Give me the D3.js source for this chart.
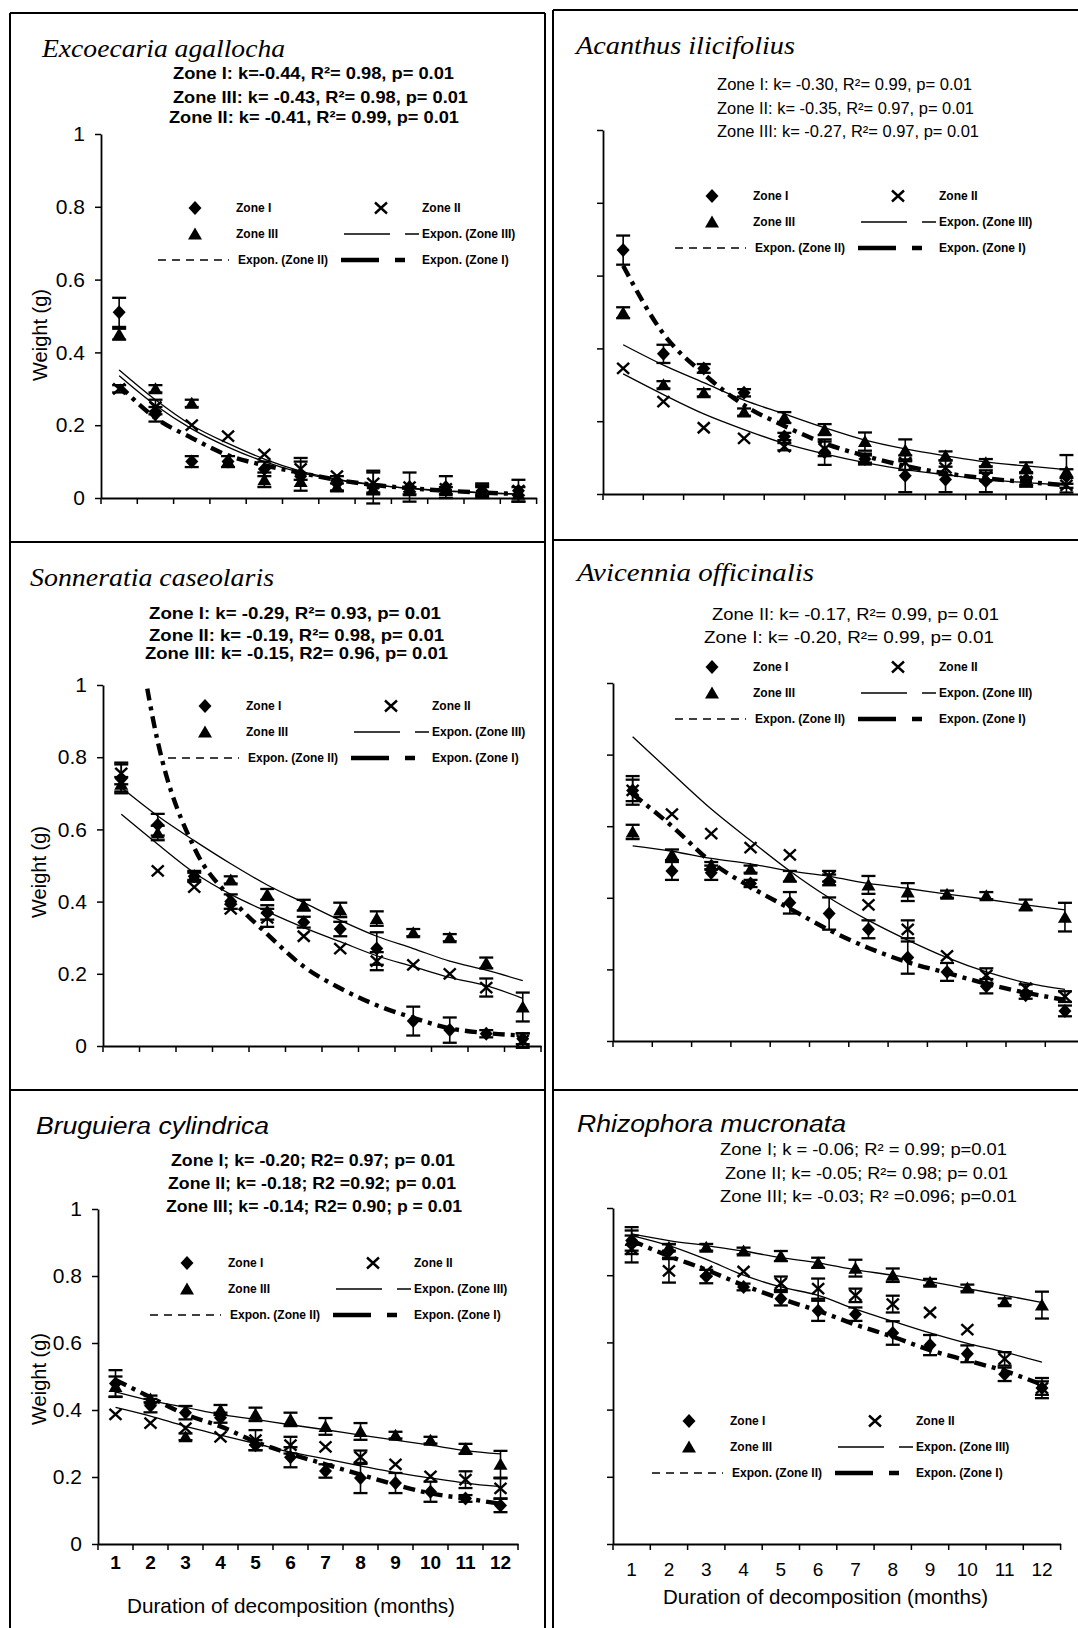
<!DOCTYPE html>
<html>
<head>
<meta charset="utf-8">
<script src="https://cdn.jsdelivr.net/npm/d3@7"></script>
<style>
  body { margin: 0; background: #fff; }
  svg { display: block; }
</style>
</head>
<body>
<div id="chart"></div>
<script>
// categories and tick labels
const months = [1, 2, 3, 4, 5, 6, 7, 8, 9, 10, 11, 12];
const monthLabels = ["1", "2", "3", "4", "5", "6", "7", "8", "9", "10", "11", "12"];
const yTicks = [0, 0.2, 0.4, 0.6, 0.8, 1];
const yTickLabels = ["0", "0.2", "0.4", "0.6", "0.8", "1"];
const legendLabels = ["Zone I", "Zone II", "Zone III", "Expon. (Zone III)", "Expon. (Zone II)", "Expon. (Zone I)"];

// Excoecaria agallocha
const excZ1 = [0.51, 0.23, 0.10, 0.10, 0.08, 0.06, 0.04, 0.03, 0.03, 0.03, 0.02, 0.02];
const excE1 = [0.04, 0.02, 0.015, 0.015, 0.02, 0.04, 0.02, 0.045, 0.04, 0.03, 0.02, 0.03];
const excZ2 = [0.30, 0.25, 0.20, 0.17, 0.12, 0.08, 0.06, 0.04, 0.03, 0.025, 0.02, 0.02];
const excE2 = [0.01, 0.02, 0, 0, 0, 0.03, 0, 0.03, 0, 0, 0.015, 0];
const excZ3 = [0.45, 0.30, 0.26, 0.10, 0.05, 0.045, 0.03, 0.025, 0.02, 0.02, 0.02, 0.01];
const excE3 = [0.015, 0.01, 0.01, 0, 0.02, 0, 0.01, 0.01, 0.01, 0.01, 0.01, 0.02];
const excT1 = [0.31, 0.22, 0.165, 0.117, 0.09, 0.069, 0.05, 0.036, 0.027, 0.02, 0.015, 0.011];
const excT2 = [0.336, 0.255, 0.19, 0.14, 0.10, 0.07, 0.05, 0.036, 0.026, 0.019, 0.014, 0.01];
const excT3 = [0.352, 0.27, 0.20, 0.15, 0.107, 0.074, 0.052, 0.037, 0.027, 0.02, 0.015, 0.011];
const excStats = ["Zone I: k=-0.44, R²= 0.98, p= 0.01", "Zone III: k= -0.43, R²= 0.98, p= 0.01", "Zone II: k= -0.41, R²= 0.99, p= 0.01"];

// Acanthus ilicifolius
const acaZ1 = [0.67, 0.385, 0.345, 0.278, 0.158, 0.115, 0.096, 0.05, 0.04, 0.035, 0.04, 0.048];
const acaE1 = [0.04, 0.025, 0.012, 0.01, 0.01, 0.035, 0.015, 0.045, 0.035, 0.03, 0.02, 0.02];
const acaZ2 = [0.345, 0.254, 0.182, 0.153, 0.13, 0.124, 0.096, 0.086, 0.072, 0.048, 0.035, 0.024];
const acaE2 = [0, 0, 0, 0, 0.01, 0.02, 0.01, 0.02, 0.02, 0.01, 0.01, 0.02];
const acaZ3 = [0.498, 0.30, 0.278, 0.225, 0.21, 0.177, 0.144, 0.12, 0.105, 0.086, 0.072, 0.062];
const acaE3 = [0.015, 0.01, 0.01, 0.01, 0.015, 0.015, 0.025, 0.03, 0.012, 0.01, 0.015, 0.045];
const acaT1 = [0.627, 0.44, 0.33, 0.244, 0.187, 0.139, 0.105, 0.077, 0.057, 0.043, 0.033, 0.024];
const acaT2 = [0.33, 0.273, 0.22, 0.177, 0.139, 0.11, 0.086, 0.067, 0.053, 0.04, 0.031, 0.024];
const acaT3 = [0.41, 0.354, 0.306, 0.258, 0.22, 0.182, 0.148, 0.124, 0.105, 0.088, 0.077, 0.067];
const acaStats = ["Zone I: k= -0.30, R²= 0.99, p= 0.01", "Zone II: k= -0.35, R²= 0.97, p= 0.01", "Zone III: k= -0.27, R²= 0.97, p= 0.01"];

// Sonneratia caseolaris
const sonZ1 = [0.74, 0.613, 0.47, 0.40, 0.37, 0.343, 0.324, 0.27, 0.069, 0.044, 0.034, 0.02];
const sonE1 = [0.04, 0.03, 0.015, 0.02, 0.02, 0.015, 0.02, 0.045, 0.04, 0.035, 0.01, 0.015];
const sonZ2 = [0.755, 0.485, 0.44, 0.38, 0.355, 0.304, 0.27, 0.235, 0.225, 0.20, 0.162, 0.015];
const sonE2 = [0.03, 0, 0, 0, 0.025, 0, 0, 0.025, 0, 0, 0.025, 0.02];
const sonZ3 = [0.725, 0.59, 0.47, 0.46, 0.42, 0.39, 0.377, 0.353, 0.314, 0.30, 0.23, 0.108];
const sonE3 = [0.02, 0.02, 0.01, 0.01, 0.015, 0.015, 0.02, 0.02, 0.01, 0.01, 0.015, 0.04];
const sonT1 = [1.45, 0.843, 0.549, 0.41, 0.31, 0.22, 0.16, 0.113, 0.078, 0.049, 0.036, 0.029];
const sonT2 = [0.642, 0.559, 0.48, 0.42, 0.372, 0.328, 0.289, 0.25, 0.22, 0.19, 0.167, 0.132];
const sonT3 = [0.716, 0.637, 0.569, 0.505, 0.446, 0.397, 0.348, 0.304, 0.27, 0.235, 0.21, 0.181];
const sonStats = ["Zone I: k= -0.29, R²= 0.93, p= 0.01", "Zone II: k= -0.19, R²= 0.98, p= 0.01", "Zone III: k= -0.15, R2= 0.96, p= 0.01"];

// Avicennia officinalis
const aviZ1 = [0.70, 0.475, 0.47, 0.44, 0.386, 0.356, 0.312, 0.233, 0.193, 0.153, 0.128, 0.084];
const aviE1 = [0.04, 0.025, 0.02, 0.01, 0.03, 0.045, 0.025, 0.045, 0.025, 0.02, 0.01, 0.015];
const aviZ2 = [0.70, 0.634, 0.579, 0.54, 0.52, 0.46, 0.38, 0.312, 0.238, 0.183, 0.148, 0.124];
const aviE2 = [0.03, 0, 0, 0, 0, 0.015, 0, 0.025, 0, 0.02, 0.01, 0.015];
const aviZ3 = [0.584, 0.52, 0.49, 0.48, 0.46, 0.45, 0.436, 0.416, 0.41, 0.406, 0.38, 0.346];
const aviE3 = [0.02, 0.015, 0.01, 0.01, 0.015, 0.015, 0.025, 0.025, 0.01, 0.01, 0.015, 0.04];
const aviT1 = [0.69, 0.60, 0.50, 0.43, 0.37, 0.31, 0.26, 0.22, 0.19, 0.16, 0.135, 0.115];
const aviT2 = [0.85, 0.748, 0.648, 0.56, 0.475, 0.40, 0.337, 0.282, 0.233, 0.193, 0.163, 0.144];
const aviT3 = [0.545, 0.53, 0.51, 0.495, 0.475, 0.46, 0.44, 0.426, 0.41, 0.396, 0.38, 0.366];
const aviStats = ["Zone II: k= -0.17, R²= 0.99, p= 0.01", "Zone I: k= -0.20, R²= 0.99, p= 0.01"];

// Bruguiera cylindrica
const bruZ1 = [0.479, 0.413, 0.392, 0.377, 0.295, 0.259, 0.218, 0.197, 0.182, 0.156, 0.136, 0.115];
const bruE1 = [0.04, 0.02, 0.02, 0.015, 0.015, 0.03, 0.02, 0.045, 0.03, 0.03, 0.01, 0.02];
const bruZ2 = [0.387, 0.361, 0.346, 0.32, 0.31, 0.295, 0.29, 0.259, 0.238, 0.202, 0.192, 0.166];
const bruE2 = [0, 0, 0, 0, 0.03, 0.025, 0, 0.02, 0, 0, 0.025, 0.03];
const bruZ3 = [0.47, 0.433, 0.32, 0.40, 0.387, 0.372, 0.351, 0.336, 0.325, 0.31, 0.284, 0.238];
const bruE3 = [0.03, 0.01, 0.01, 0.015, 0.02, 0.02, 0.025, 0.025, 0.01, 0.01, 0.015, 0.04];
const bruT1 = [0.49, 0.438, 0.387, 0.351, 0.305, 0.269, 0.238, 0.207, 0.177, 0.151, 0.136, 0.12];
const bruT2 = [0.408, 0.382, 0.351, 0.325, 0.30, 0.274, 0.254, 0.233, 0.213, 0.197, 0.182, 0.171];
const bruT3 = [0.454, 0.428, 0.408, 0.387, 0.372, 0.356, 0.341, 0.325, 0.31, 0.295, 0.279, 0.269];
const bruStats = ["Zone I; k= -0.20; R2= 0.97; p= 0.01", "Zone II; k= -0.18; R2 =0.92; p= 0.01", "Zone III; k= -0.14; R2= 0.90; p = 0.01"];

// Rhizophora mucronata
const rhiZ1 = [0.903, 0.872, 0.796, 0.765, 0.73, 0.694, 0.684, 0.628, 0.592, 0.566, 0.505, 0.464];
const rhiE1 = [0.04, 0.02, 0.02, 0.01, 0.02, 0.03, 0.02, 0.035, 0.03, 0.025, 0.02, 0.03];
const rhiZ2 = [0.878, 0.813, 0.811, 0.811, 0.776, 0.76, 0.74, 0.714, 0.689, 0.638, 0.551, 0.464];
const rhiE2 = [0.04, 0.035, 0, 0, 0.02, 0.03, 0.02, 0.025, 0, 0, 0.02, 0.02];
const rhiZ3 = [0.903, 0.883, 0.883, 0.872, 0.857, 0.837, 0.821, 0.80, 0.779, 0.762, 0.721, 0.711];
const rhiE3 = [0.03, 0.01, 0.01, 0.01, 0.015, 0.015, 0.025, 0.02, 0.01, 0.01, 0.01, 0.04];
const rhiT1 = [0.903, 0.857, 0.816, 0.77, 0.73, 0.694, 0.653, 0.617, 0.577, 0.546, 0.515, 0.474];
const rhiT2 = [0.918, 0.888, 0.847, 0.80, 0.765, 0.74, 0.699, 0.663, 0.628, 0.597, 0.571, 0.541];
const rhiT3 = [0.923, 0.903, 0.888, 0.872, 0.852, 0.837, 0.816, 0.80, 0.781, 0.76, 0.74, 0.719];
const rhiStats = ["Zone I; k = -0.06; R² = 0.99; p=0.01", "Zone II; k= -0.05; R²= 0.98; p= 0.01", "Zone III; k= -0.03; R² =0.096; p=0.01"];

// panel layout (positions only)
const panels = [
  { title: "Excoecaria agallocha", serif: true, tx: 42, ty: 57, tw: 243,
    stats: excStats, bold: true, sx: [173, 173, 169], sy: [79, 103, 123], sw: [281, 295, 290],
    x0: 101, bw: 36.3, yTop: 134, yBot: 498, yLab: true, xLab: false, wx: 40, wy: 335, lx: 195, ly: 208,
    z: [excZ1, excZ2, excZ3], e: [excE1, excE2, excE3], t: [excT1, excT2, excT3] },
  { title: "Acanthus ilicifolius", serif: true, tx: 576, ty: 54, tw: 219,
    stats: acaStats, bold: false, sx: [717, 717, 717], sy: [90, 114, 137], sw: [255, 257, 262],
    x0: 603, bw: 40.3, yTop: 130, yBot: 494, yLab: false, xLab: false, lx: 712, ly: 196,
    z: [acaZ1, acaZ2, acaZ3], e: [acaE1, acaE2, acaE3], t: [acaT1, acaT2, acaT3] },
  { title: "Sonneratia caseolaris", serif: true, tx: 30, ty: 586, tw: 244,
    stats: sonStats, bold: true, sx: [149, 149, 145], sy: [619, 641, 659], sw: [292, 295, 303],
    x0: 103, bw: 36.5, yTop: 685, yBot: 1046, yLab: true, xLab: false, wx: 39, wy: 872, lx: 205, ly: 706,
    z: [sonZ1, sonZ2, sonZ3], e: [sonE1, sonE2, sonE3], t: [sonT1, sonT2, sonT3] },
  { title: "Avicennia officinalis", serif: true, tx: 577, ty: 581, tw: 237,
    stats: aviStats, bold: false, sx: [712, 704], sy: [620, 643], sw: [287, 290],
    x0: 613, bw: 39.3, yTop: 683, yBot: 1041, yLab: false, xLab: false, lx: 712, ly: 667,
    z: [aviZ1, aviZ2, aviZ3], e: [aviE1, aviE2, aviE3], t: [aviT1, aviT2, aviT3] },
  { title: "Bruguiera cylindrica", serif: false, tx: 36, ty: 1134, tw: 233,
    stats: bruStats, bold: true, sx: [171, 168, 166], sy: [1166, 1189, 1212], sw: [284, 288, 296],
    x0: 98, bw: 35, yTop: 1209, yBot: 1544, yLab: true, xLab: true, xBold: true, xPad: 12,
    wx: 39, wy: 1379, lx: 187, ly: 1263, xtX: 127, xtY: 1613, xtW: 328,
    z: [bruZ1, bruZ2, bruZ3], e: [bruE1, bruE2, bruE3], t: [bruT1, bruT2, bruT3] },
  { title: "Rhizophora mucronata", serif: false, tx: 577, ty: 1132, tw: 269,
    stats: rhiStats, bold: false, sx: [720, 725, 720], sy: [1155, 1179, 1202], sw: [287, 283, 297],
    x0: 613, bw: 37.3, yTop: 1208, yBot: 1544, yLab: false, xLab: true, xBold: false, xPad: 19,
    lx: 689, ly: 1421, xtX: 663, xtY: 1604, xtW: 325,
    z: [rhiZ1, rhiZ2, rhiZ3], e: [rhiE1, rhiE2, rhiE3], t: [rhiT1, rhiT2, rhiT3] }
];

const sans = "'Liberation Sans', Arial, Helvetica, sans-serif";
const serif = "'Liberation Serif', 'Times New Roman', serif";

const svg = d3.select("#chart").append("svg")
  .attr("width", 1078)
  .attr("height", 1628)
  .style("font-family", sans);

// panel frames
const frame = svg.append("g").attr("stroke", "#000").attr("stroke-width", 2);
[[10, 13, 545, 13], [10, 13, 10, 1628], [545, 13, 545, 1628], [10, 542, 545, 542], [10, 1090, 545, 1090],
 [553, 10, 1078, 10], [553, 10, 553, 1628], [553, 540, 1078, 540], [553, 1090, 1078, 1090]]
  .forEach(l => frame.append("line").attr("x1", l[0]).attr("y1", l[1]).attr("x2", l[2]).attr("y2", l[3]));

// marker shapes
const diamond = "M0,-7L6.5,0L0,7L-6.5,0Z";
const triangle = "M0,-6.5L7,5.5L-7,5.5Z";
const cross = "M-6,-5.5L6,5.5M-6,5.5L6,-5.5";

function drawMarker(g, kind, cx, cy) {
  if (kind === 0) g.append("path").attr("d", diamond).attr("transform", `translate(${cx},${cy})`).attr("fill", "#000");
  else if (kind === 1) g.append("path").attr("d", cross).attr("transform", `translate(${cx},${cy})`)
    .attr("fill", "none").attr("stroke", "#000").attr("stroke-width", 2.4);
  else g.append("path").attr("d", triangle).attr("transform", `translate(${cx},${cy})`).attr("fill", "#000");
}

const thinLine = { w: 1.3, dash: null };
const thickLine = { w: 4.4, dash: "12,6,4,6" };

panels.forEach((p, pi) => {
  const g = svg.append("g");
  const x = d3.scaleBand().domain(months).range([p.x0, p.x0 + p.bw * 12]);
  const xc = m => x(m) + x.bandwidth() / 2;
  const y = d3.scaleLinear().domain([0, 1]).range([p.yBot, p.yTop]);

  // title
  g.append("text")
    .attr("x", p.tx).attr("y", p.ty)
    .attr("font-family", p.serif ? serif : sans)
    .attr("font-style", "italic")
    .attr("font-size", p.serif ? 25 : 23)
    .attr("textLength", p.tw).attr("lengthAdjust", "spacingAndGlyphs")
    .text(p.title);

  // regression stats
  p.stats.forEach((s, i) => {
    g.append("text")
      .attr("x", p.sx[i]).attr("y", p.sy[i])
      .attr("font-size", p.bold ? 16.5 : 16)
      .attr("font-weight", p.bold ? "bold" : "normal")
      .attr("textLength", p.sw[i]).attr("lengthAdjust", "spacingAndGlyphs")
      .text(s);
  });

  // y axis
  const yAxis = d3.axisLeft(y)
    .tickValues(yTicks)
    .tickSize(6)
    .tickSizeOuter(0)
    .tickPadding(10)
    .tickFormat((d, i) => p.yLab ? yTickLabels[i] : "");
  const ya = g.append("g").attr("transform", `translate(${p.x0},0)`).call(yAxis);
  ya.select(".domain").attr("stroke", "#000").attr("stroke-width", 1.8);
  ya.selectAll(".tick line").attr("stroke", "#000").attr("stroke-width", 1.5);
  ya.selectAll(".tick text").attr("fill", "#000").attr("font-size", 21).attr("font-family", sans);

  // x axis (labels at centers, ticks between categories)
  const xAxis = d3.axisBottom(x)
    .tickSize(0)
    .tickSizeOuter(0)
    .tickPadding(p.xPad || 8)
    .tickFormat((d, i) => p.xLab ? monthLabels[i] : "");
  const xa = g.append("g").attr("transform", `translate(0,${p.yBot})`).call(xAxis);
  xa.select(".domain").attr("stroke", "#000").attr("stroke-width", 1.8);
  xa.selectAll(".tick text").attr("fill", "#000").attr("font-size", 19)
    .attr("font-family", sans).attr("font-weight", p.xBold ? "bold" : "normal");
  const edges = months.map(m => x(m)).concat([x.range()[1]]);
  g.append("g").selectAll("line").data(edges).enter().append("line")
    .attr("x1", d => d).attr("x2", d => d)
    .attr("y1", p.yBot).attr("y2", p.yBot + 6)
    .attr("stroke", "#000").attr("stroke-width", 1.5);

  if (p.wx) {
    g.append("text")
      .attr("transform", `translate(${p.wx},${p.wy}) rotate(-90)`)
      .attr("text-anchor", "middle").attr("dy", "0.35em")
      .attr("font-size", 20)
      .text("Weight (g)");
  }
  if (p.xtX) {
    g.append("text")
      .attr("x", p.xtX).attr("y", p.xtY)
      .attr("font-size", 21)
      .attr("textLength", p.xtW).attr("lengthAdjust", "spacingAndGlyphs")
      .text("Duration of decomposition (months)");
  }

  // clip for trend lines
  const clipId = "clip" + pi;
  svg.append("clipPath").attr("id", clipId).append("rect")
    .attr("x", p.x0).attr("y", p.yTop)
    .attr("width", p.bw * 12).attr("height", p.yBot - p.yTop);

  // error bars
  const eb = g.append("g").attr("stroke", "#000");
  p.z.forEach((series, si) => {
    series.forEach((v, i) => {
      const err = p.e[si][i];
      if (!err) return;
      const cx = xc(months[i]);
      eb.append("line").attr("x1", cx).attr("x2", cx)
        .attr("y1", y(v - err)).attr("y2", y(v + err)).attr("stroke-width", 1.6);
      [v - err, v + err].forEach(b => eb.append("line")
        .attr("x1", cx - 7).attr("x2", cx + 7)
        .attr("y1", y(b)).attr("y2", y(b)).attr("stroke-width", 2.3));
    });
  });

  // exponential trend lines
  const line = d3.line()
    .x((d, i) => xc(months[i]))
    .y(d => y(d))
    .curve(d3.curveMonotoneX);
  const trendStyles = [thickLine, thinLine, thinLine];
  p.t.forEach((series, si) => {
    const st = trendStyles[si];
    g.append("path")
      .attr("clip-path", `url(#${clipId})`)
      .attr("d", line(series))
      .attr("fill", "none")
      .attr("stroke", "#000")
      .attr("stroke-width", st.w)
      .attr("stroke-dasharray", st.dash);
  });

  // markers
  p.z.forEach((series, si) => {
    series.forEach((v, i) => drawMarker(g, si, xc(months[i]), y(v)));
  });

  // legend
  const lg = g.append("g").attr("font-size", 12).attr("font-weight", "bold");
  const r = [p.ly, p.ly + 26, p.ly + 52];
  drawMarker(lg, 0, p.lx, r[0]);
  drawMarker(lg, 1, p.lx + 186, r[0]);
  drawMarker(lg, 2, p.lx, r[1]);
  lg.append("line").attr("x1", p.lx + 149).attr("x2", p.lx + 224).attr("y1", r[1]).attr("y2", r[1])
    .attr("stroke", "#000").attr("stroke-width", 1.3).attr("stroke-dasharray", "46,15,14");
  lg.append("line").attr("x1", p.lx - 37).attr("x2", p.lx + 34).attr("y1", r[2]).attr("y2", r[2])
    .attr("stroke", "#000").attr("stroke-width", 1.6).attr("stroke-dasharray", "8,6");
  lg.append("line").attr("x1", p.lx + 146).attr("x2", p.lx + 210).attr("y1", r[2]).attr("y2", r[2])
    .attr("stroke", "#000").attr("stroke-width", 4.5).attr("stroke-dasharray", "38,16,10");
  const lt = [[legendLabels[0], p.lx + 41, r[0]], [legendLabels[1], p.lx + 227, r[0]],
              [legendLabels[2], p.lx + 41, r[1]], [legendLabels[3], p.lx + 227, r[1]],
              [legendLabels[4], p.lx + 43, r[2]], [legendLabels[5], p.lx + 227, r[2]]];
  lt.forEach(d => lg.append("text").attr("x", d[1]).attr("y", d[2]).attr("dy", "0.35em").text(d[0]));
});
</script>
</body>
</html>
